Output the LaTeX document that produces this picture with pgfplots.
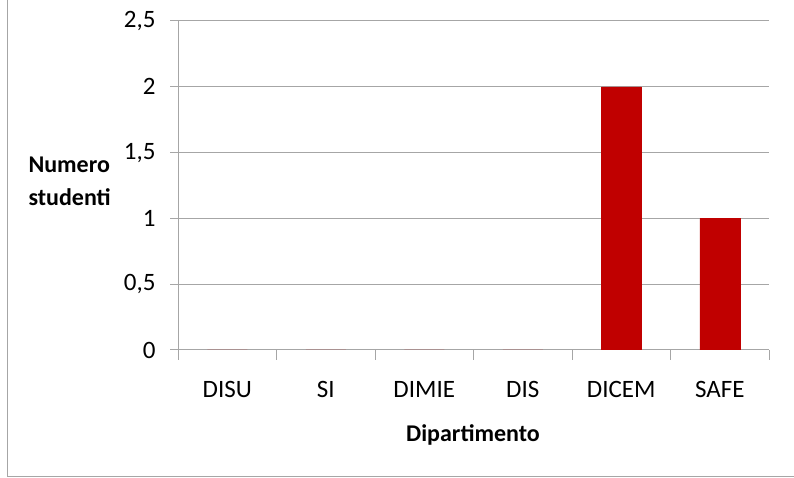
\documentclass[border=0pt]{standalone}
\usepackage{pgfplots}
\pgfplotsset{compat=1.18}
\usepackage{fontspec}
\setmainfont{Carlito}
\definecolor{barred}{HTML}{C00000}
\definecolor{gridgray}{HTML}{A6A6A6}
\begin{document}
\begin{tikzpicture}[x=1pt,y=1pt]
\useasboundingbox (0,0) rectangle (794,478);
\draw[gridgray, line width=1pt] (7,478) -- (7,1) -- (794,1);
\begin{axis}[
  at={(178pt,128pt)}, anchor=south west,
  scale only axis, width=591pt, height=329pt,
  xmin=-0.5, xmax=5.5, ymin=0, ymax=2.5,
  axis x line*=bottom, axis y line*=left,
  axis line style={gridgray, line width=1pt},
  ytick={0,0.5,1,1.5,2,2.5},
  xtick={0,1,2,3,4,5},
  xticklabels={DISU,SI,DIMIE,DIS,DICEM,SAFE},
  minor xtick={-0.5,0.5,1.5,2.5,3.5,4.5,5.5},
  major x tick style={draw=none},
  minor tick length=10pt,
  major tick length=8pt,
  tick align=outside,
  tick style={gridgray, line width=1pt},
  ymajorgrids, grid style={gridgray, line width=1pt},
  /pgf/number format/assume math mode=true,
  /pgf/number format/use comma,
  ticklabel style={font=\fontsize{25}{28}\selectfont, text=black},
  yticklabel style={anchor=east, xshift=-11pt},
  xticklabel style={anchor=north, yshift=-20pt},
]
\addplot[ybar, bar width=40pt, fill=barred, draw=barred] coordinates {(0,0) (1,0) (2,0) (3,0) (4,2) (5,1)};
\end{axis}
\node[anchor=west, align=left, font=\fontsize{24}{33}\selectfont\bfseries] at (25,297) {Numero\\studenti};
\node[font=\fontsize{24}{28}\selectfont\bfseries] at (473,43) {Dipartimento};
\end{tikzpicture}
\end{document}
